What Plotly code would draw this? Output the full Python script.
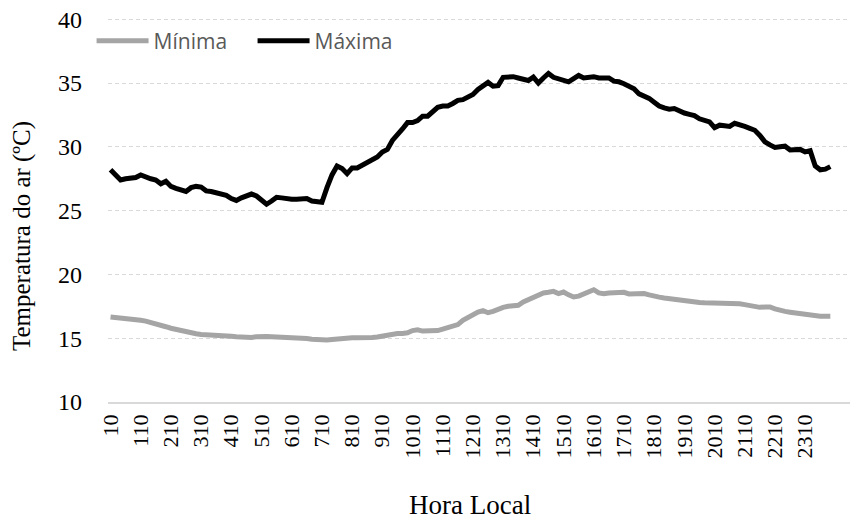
import plotly.graph_objects as go

# Categories: local time HHMM every 10 minutes
hora_local = [h * 100 + m for h in range(24) for m in range(0, 60, 10)][1:] + [2400]
categorias = [str(v) for v in hora_local]

minima = [
    16.67, 16.64, 16.60, 16.57, 16.54, 16.47, 16.40, 16.34, 16.25, 16.13,
    16.02, 15.90, 15.78, 15.68, 15.60, 15.50, 15.42, 15.35, 15.30, 15.26,
    15.22, 15.20, 15.19, 15.17, 15.15, 15.12, 15.08, 15.04, 15.06, 15.12,
    15.16, 15.14, 15.12, 15.10, 15.10, 15.10, 15.10, 15.10, 15.04, 14.98,
    14.92, 14.87, 14.84, 14.86, 14.90, 14.95, 15.00, 15.03, 15.03, 15.03,
    15.02, 15.03, 15.06, 15.10, 15.18, 15.26, 15.34, 15.37, 15.37, 15.42,
    15.60, 15.66, 15.56, 15.55, 15.55, 15.60, 15.72, 15.84, 15.96, 16.07,
    16.40, 16.65, 16.90, 17.05, 17.16, 17.00, 17.10, 17.30, 17.42, 17.50,
    17.55, 17.58, 17.85, 18.05, 18.25, 18.40, 18.55, 18.60, 18.67, 18.50,
    18.62, 18.40, 18.23, 18.30, 18.45, 18.60, 18.80, 18.55, 18.48, 18.55,
    18.55, 18.58, 18.60, 18.47, 18.50, 18.55, 18.50, 18.40, 18.28, 18.22,
    18.15, 18.10, 18.00, 17.92, 17.88, 17.85, 17.81, 17.80, 17.78, 17.77,
    17.74, 17.71, 17.73, 17.76, 17.77, 17.70, 17.63, 17.55, 17.45, 17.42,
    17.45, 17.45, 17.30, 17.16, 17.10, 17.04, 16.98, 16.90, 16.82, 16.78,
    16.74, 16.72, 16.72, 16.72,
]

maxima = [
    28.20, 27.80, 27.40, 27.50, 27.55, 27.60, 27.80, 27.60, 27.50, 27.40,
    27.10, 27.30, 26.90, 26.75, 26.60, 26.50, 26.80, 26.90, 26.85, 26.55,
    26.50, 26.40, 26.30, 26.20, 25.95, 25.80, 26.00, 26.20, 26.30, 26.15,
    25.80, 25.50, 25.75, 26.05, 26.00, 25.90, 25.90, 25.90, 25.95, 25.95,
    25.75, 25.70, 25.65, 26.80, 27.80, 28.50, 28.30, 27.90, 28.35, 28.35,
    28.55, 28.70, 28.90, 29.20, 29.60, 29.80, 30.50, 30.90, 31.40, 31.90,
    31.90, 32.05, 32.40, 32.40, 32.80, 33.10, 33.20, 33.20, 33.40, 33.65,
    33.70, 33.90, 34.10, 34.50, 34.80, 35.05, 34.75, 34.80, 35.45, 35.45,
    35.50, 35.40, 35.30, 35.20, 35.47, 35.00, 35.40, 35.75, 35.45, 35.35,
    35.20, 35.10, 35.35, 35.60, 35.40, 35.45, 35.50, 35.40, 35.40, 35.40,
    35.15, 35.10, 34.95, 34.75, 34.55, 34.15, 34.00, 33.80, 33.50, 33.20,
    33.05, 32.95, 33.00, 32.80, 32.65, 32.55, 32.45, 32.20, 32.10, 31.95,
    31.50, 31.70, 31.65, 31.60, 31.85, 31.75, 31.60, 31.45, 31.30, 30.90,
    30.40, 30.15, 29.95, 30.00, 30.05, 29.75, 29.80, 29.80, 29.60, 29.70,
    28.50, 28.20, 28.25, 28.45,
]

rotulos_x = categorias[::6]
rotulos_y = [10, 15, 20, 25, 30, 35, 40]

serif = "Liberation Serif, Times New Roman, serif"

fig = go.Figure()
fig.add_trace(go.Scatter(
    x=categorias, y=minima, name="Mínima", mode="lines",
    line=dict(color="#A5A5A5", width=5),
))
fig.add_trace(go.Scatter(
    x=categorias, y=maxima, name="Máxima", mode="lines",
    line=dict(color="#000000", width=5),
))

# the page body adds an 8 px offset, so the figure is 8 px smaller than the window
fig.update_layout(
    width=850, height=513,
    margin=dict(l=100, r=3, t=10, b=119, autoexpand=False),
    paper_bgcolor="white", plot_bgcolor="white",
    showlegend=True,
    legend=dict(
        orientation="h", x=-0.022, y=0.94, xanchor="left", yanchor="middle",
        font=dict(family="Open Sans, sans-serif", size=21, color="#595959"),
        bgcolor="rgba(0,0,0,0)", entrywidth=94, entrywidthmode="pixels",
        itemwidth=52,
    ),
    xaxis=dict(
        type="category", categoryorder="array", categoryarray=categorias,
        range=[-0.5, 147.9],
        tickmode="array", tickvals=rotulos_x, ticktext=rotulos_x,
        tickangle=-90, tickfont=dict(family=serif, size=22, color="#000000"),
        showgrid=False, showline=True, linecolor="#D9D9D9", linewidth=1.5,
        ticks="", ticklabelstandoff=2, automargin=False,
        zeroline=False,
    ),
    yaxis=dict(
        range=[10, 40.1], tickmode="array", tickvals=rotulos_y,
        tickfont=dict(family=serif, size=24, color="#000000"),
        showgrid=True, gridcolor="#D9D9D9", gridwidth=1, griddash="4px,3px",
        showline=False, zeroline=False, ticks="", ticklabelstandoff=25,
        ticklabeloverflow="allow", automargin=False,
    ),
    annotations=[
        dict(text="Temperatura do ar (ºC)", textangle=-90, xref="paper", yref="paper",
             x=-0.116, y=0.433, xanchor="center", yanchor="middle", showarrow=False,
             font=dict(family=serif, size=25, color="#000000")),
        dict(text="Hora Local", xref="paper", yref="paper",
             x=0.485, y=-0.269, xanchor="center", yanchor="middle", showarrow=False,
             font=dict(family=serif, size=27, color="#000000")),
    ],
)

fig.write_html("out.html")
